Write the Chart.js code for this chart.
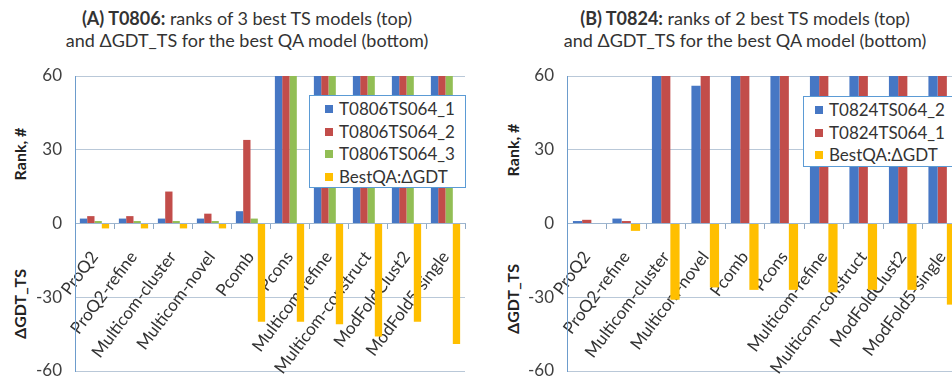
<!DOCTYPE html>
<html>
<head>
<meta charset="utf-8">
<script src="https://cdn.jsdelivr.net/npm/chart.js@4.4.1/dist/chart.umd.min.js"></script>
<style>
   body { margin: 0; width: 952px; height: 382px; overflow: hidden; background: #fff;
          font-family: Lato, "Open Sans", sans-serif; color: #333; position: relative; }
   canvas { position: absolute; top: 0; }
   .title { position: absolute; top: 7px; transform: translateX(-50%); text-align: center;
            font-size: 18px; line-height: 22px; white-space: nowrap; }
   .ytitle { position: absolute; font-weight: bold; font-size: 16px; white-space: nowrap;
             transform: translate(-50%, -50%) rotate(-90deg); color: #222; }
   .legend { position: absolute; background: #fff; border: 1.5px solid #5b9bd5;
             font-size: 17px; color: #333; box-sizing: border-box; padding: 2px 0 0 15px; }
   .legend div { height: 22.5px; line-height: 22px; white-space: nowrap; }
   .legend span { display: inline-block; width: 8px; height: 8px; margin-right: 6px; vertical-align: 2px; }
</style>
</head>
<body>
<div class="title" style="left:247px"><b>(A) T0806:</b> ranks of 3 best TS models (top)<br>and ΔGDT_TS for the best QA model (bottom)</div>
<div class="title" style="left:745px"><b>(B) T0824:</b> ranks of 2 best TS models (top)<br>and ΔGDT_TS for the best QA model (bottom)</div>

<div class="ytitle" style="left:19px;top:154px">Rank, #</div>
<div class="ytitle" style="left:19px;top:304px">ΔGDT_TS</div>
<div class="ytitle" style="left:512px;top:150px">Rank, #</div>
<div class="ytitle" style="left:512px;top:299px">ΔGDT_TS</div>

<canvas id="chartA" width="476" height="382" style="left:0"></canvas>
<canvas id="chartB" width="500" height="382" style="left:476px"></canvas>

<div class="legend" id="legendA" style="left:309px;top:95px;width:157px;height:93px"></div>
<div class="legend" id="legendB" style="left:803px;top:96px;width:160px;height:71px;padding-left:11px"></div>

<script>
// categories (same QA methods in both panels)
const categories = ["ProQ2", "ProQ2-refine", "Multicom-cluster", "Multicom-novel", "Pcomb",
   "Pcons", "Multicom-refine", "Multicom-construct", "ModFoldClust2", "ModFold5-single"];

// panel A: T0806
const rankA1 = [2, 2, 2, 2, 5, 60, 60, 60, 60, 60];
const rankA2 = [3, 3, 13, 4, 34, 60, 60, 60, 60, 60];
const rankA3 = [1, 1, 1, 1, 2, 60, 60, 60, 60, 60];
const gdtA = [-2, -2, -2, -2, -40, -40, -41, -46, -40, -49];

// panel B: T0824
const rankB1 = [1, 2, 60, 56, 60, 60, 60, 60, 60, 60];
const rankB2 = [1.5, 1, 60, 60, 60, 60, 60, 60, 60, 60];
const gdtB = [0, -3, -31, -26, -27, -27, -28, -27, -27, -33];

const yTicks = [-60, -30, 0, 30, 60];

const COLORS = { blue: "#4677c4", red: "#c24d4a", green: "#92be55", gold: "#ffbf00" };

Chart.defaults.font.family = "Lato, 'Open Sans', sans-serif";
Chart.defaults.color = "#404040";

const makeDataset = (label, data, color) => ({
   label: label,
   data: data,
   backgroundColor: color,
   borderWidth: 0,
});

const createChart = (canvasId, datasets, axisWidth, padRight, catPct) => {
   const config = {
      type: "bar",
      data: { labels: categories, datasets: datasets },
      options: {
         responsive: false,
         animation: false,
         events: [],
         datasets: { bar: { categoryPercentage: catPct, barPercentage: 1 } },
         layout: { padding: { top: 76, bottom: 11, left: 0, right: padRight } },
         plugins: { legend: { display: false }, tooltip: { enabled: false } },
         scales: {
            x: {
               position: { y: 0 },
               afterFit: (scale) => {
                  // rotated labels should not push the plot edges
                  scale.paddingLeft = 0;
                  scale.paddingRight = 0;
               },
               grid: { drawOnChartArea: false, tickLength: 5, color: "#8fa9c4" },
               border: { color: "#9db5cf" },
               ticks: { autoSkip: false, minRotation: 53, maxRotation: 53, padding: 19,
                        font: { size: 17 }, color: "#333" },
            },
            y: {
               min: yTicks[0],
               max: yTicks[yTicks.length - 1],
               afterBuildTicks: (scale) => { scale.ticks = yTicks.map((v) => ({ value: v })); },
               afterFit: (scale) => {
                  scale.width = axisWidth;
                  // keep the -60 line at the bottom padding
                  scale.paddingBottom = 0;
               },
               grid: { color: "#b9c8d8", drawTicks: false },
               border: { color: "#6d9ccc" },
               ticks: { padding: 13, font: { size: 17 }, color: "#404040" },
            },
         },
      },
   };
   return new Chart(document.getElementById(canvasId), config);
};

const buildLegend = (elementId, datasets) => {
   const el = document.getElementById(elementId);
   datasets.forEach((ds) => {
      const row = document.createElement("div");
      const swatch = document.createElement("span");
      swatch.style.background = ds.backgroundColor;
      row.appendChild(swatch);
      row.appendChild(document.createTextNode(ds.label));
      el.appendChild(row);
   });
};

// panel A
const datasetsA = [
   makeDataset("T0806TS064_1", rankA1, COLORS.blue),
   makeDataset("T0806TS064_2", rankA2, COLORS.red),
   makeDataset("T0806TS064_3", rankA3, COLORS.green),
   makeDataset("BestQA:ΔGDT", gdtA, COLORS.gold),
];
createChart("chartA", datasetsA, 75, 11, 0.75);
buildLegend("legendA", datasetsA);

// panel B (plot runs past the right edge of the page, as in the original)
const datasetsB = [
   makeDataset("T0824TS064_2", rankB1, COLORS.blue),
   makeDataset("T0824TS064_1", rankB2, COLORS.red),
   makeDataset("BestQA:ΔGDT", gdtB, COLORS.gold),
];
createChart("chartB", datasetsB, 91, 14, 0.7);
buildLegend("legendB", datasetsB);
</script>
</body>
</html>
